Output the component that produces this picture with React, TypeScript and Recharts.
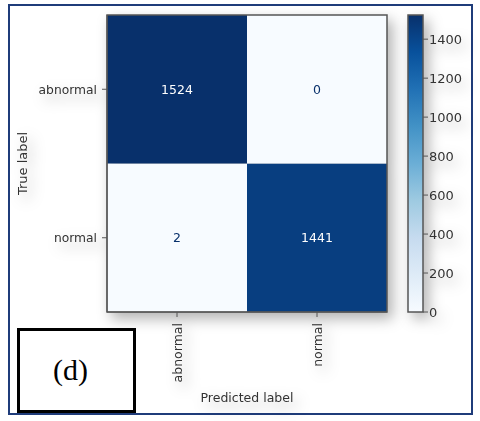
import React from "react"
import { BarChart, Bar, XAxis, YAxis, Cell, LabelList, ReferenceArea } from "recharts"

// confusion matrix: rows = true label, columns = predicted label
const classLabels = ["abnormal", "normal"]
const abnormalRow = [1524, 0]
const normalRow = [2, 1441]
const colorbarTicks = [0, 200, 400, 600, 800, 1000, 1200, 1400]

const cmMax = Math.max(...abnormalRow, ...normalRow)

// matplotlib "Blues"
const bluesStops = ["#f7fbff", "#deebf7", "#c6dbef", "#9ecae1", "#6baed6", "#4292c6", "#2171b5", "#08519c", "#08306b"]

function blues(t: number) {
  const c = Math.min(1, Math.max(0, t)) * (bluesStops.length - 1)
  const i = Math.min(bluesStops.length - 2, Math.floor(c))
  const f = c - i
  const a = parseInt(bluesStops[i].slice(1), 16)
  const b = parseInt(bluesStops[i + 1].slice(1), 16)
  const ch = (s: number) => Math.round(((a >> s) & 255) * (1 - f) + ((b >> s) & 255) * f)
  return `rgb(${ch(16)},${ch(8)},${ch(0)})`
}

const matrixData = classLabels.map((pred, i) => ({
  pred,
  normal: 1,
  abnormal: 1,
  normalCount: normalRow[i],
  abnormalCount: abnormalRow[i],
}))

const colorbarData = [{ name: "cb", value: cmMax }]

const FONT = "'DejaVu Sans', sans-serif"
const INK = "#333"
const SPINE = "#555"
const SHADOW = "drop-shadow(5px 6px 7px rgba(0,0,0,0.3))"

const CellValue = (props: any) => {
  const { x, y, width, height, value } = props
  const light = value / cmMax > 0.5
  return (
    <text
      x={x + width / 2}
      y={y + height / 2}
      textAnchor="middle"
      dominantBaseline="central"
      fontFamily={FONT}
      fontSize={12.5}
      fill={light ? "#ffffff" : "#08306b"}
    >
      {value}
    </text>
  )
}

const XTick = (props: any) => {
  const { x, y, payload } = props
  return (
    <text
      x={x}
      y={y}
      transform={`rotate(-90, ${x}, ${y})`}
      textAnchor="end"
      dominantBaseline="central"
      fontFamily={FONT}
      fontSize={12.5}
      fill={INK}
    >
      {payload.value}
    </text>
  )
}

const yRowLabel = (v: number) => classLabels[Math.round(1.5 - v)]

export default function App() {
  return (
    <div style={{ position: "absolute", left: 0, top: 0, width: 480, height: 421, background: "#fff", overflow: "hidden" }}>
      <div
        style={{
          position: "absolute",
          left: 8,
          top: 4,
          width: 465,
          height: 411,
          boxSizing: "border-box",
          border: "2px solid #1f3c7a",
        }}
      />

      {/* Confusion matrix */}
      <div style={{ position: "absolute", left: 0, top: 0, filter: SHADOW }}>
        <BarChart
          width={400}
          height={421}
          data={matrixData}
          margin={{ top: 15, right: 13, bottom: 19, left: 27 }}
          barCategoryGap={0}
          barGap={0}
        >
          <XAxis
            dataKey="pred"
            tick={<XTick />}
            tickSize={5}
            tickMargin={6}
            height={90}
            interval={0}
            stroke={SPINE}
            label={{
              content: (p: any) => (
                <text
                  x={p.viewBox.x + p.viewBox.width / 2}
                  y={p.viewBox.y + 85}
                  textAnchor="middle"
                  dominantBaseline="central"
                  fontFamily={FONT}
                  fontSize={12.5}
                  fill={INK}
                >
                  Predicted label
                </text>
              ),
            }}
          />
          <YAxis
            type="number"
            domain={[0, 2]}
            ticks={[0.5, 1.5]}
            tickFormatter={yRowLabel}
            width={80}
            tickSize={5}
            tickMargin={5}
            stroke={SPINE}
            tick={{ fill: INK, fontSize: 12.3, fontFamily: FONT }}
            label={{
              content: (p: any) => {
                const cx = p.viewBox.x - 5
                const cy = p.viewBox.y + p.viewBox.height / 2
                return (
                  <text
                    x={cx}
                    y={cy}
                    transform={`rotate(-90, ${cx}, ${cy})`}
                    textAnchor="middle"
                    dominantBaseline="central"
                    fontFamily={FONT}
                    fontSize={13}
                    fill={INK}
                  >
                    True label
                  </text>
                )
              },
            }}
          />
          <Bar dataKey="normal" stackId="cm" isAnimationActive={false}>
            {matrixData.map((d) => (
              <Cell key={`n-${d.pred}`} fill={blues(d.normalCount / cmMax)} />
            ))}
            <LabelList dataKey="normalCount" content={<CellValue />} />
          </Bar>
          <Bar dataKey="abnormal" stackId="cm" isAnimationActive={false}>
            {matrixData.map((d) => (
              <Cell key={`a-${d.pred}`} fill={blues(d.abnormalCount / cmMax)} />
            ))}
            <LabelList dataKey="abnormalCount" content={<CellValue />} />
          </Bar>
          <ReferenceArea
            x1={classLabels[0]}
            x2={classLabels[classLabels.length - 1]}
            y1={0}
            y2={2}
            fill="none"
            fillOpacity={0}
            stroke={SPINE}
            strokeWidth={1.5}
            zIndex={1000}
          />
        </BarChart>
      </div>

      {/* Colorbar */}
      <div style={{ position: "absolute", left: 395, top: 0, filter: SHADOW }}>
        <BarChart
          width={85}
          height={421}
          data={colorbarData}
          margin={{ top: 15, right: 12, bottom: 109, left: 13 }}
          barCategoryGap={0}
        >
          <defs>
            <linearGradient id="bluesGrad" x1="0" y1="1" x2="0" y2="0">
              {bluesStops.map((c, i) => (
                <stop key={c} offset={i / (bluesStops.length - 1)} stopColor={c} />
              ))}
            </linearGradient>
          </defs>
          <XAxis dataKey="name" hide />
          <YAxis
            orientation="right"
            type="number"
            domain={[0, cmMax]}
            ticks={colorbarTicks}
            width={45}
            tickSize={5}
            tickMargin={1}
            axisLine={false}
            stroke={SPINE}
            tick={{ fill: INK, fontSize: 13, fontFamily: FONT, textAnchor: "start" }}
          />
          <Bar dataKey="value" fill="url(#bluesGrad)" isAnimationActive={false} />
          <ReferenceArea
            x1="cb"
            x2="cb"
            y1={0}
            y2={cmMax}
            fill="none"
            fillOpacity={0}
            stroke={SPINE}
            strokeWidth={1.5}
            zIndex={1000}
          />
        </BarChart>
      </div>

      {/* panel tag */}
      <div
        style={{
          position: "absolute",
          left: 17,
          top: 328,
          width: 119,
          height: 85,
          boxSizing: "border-box",
          border: "3px solid #000",
          background: "#fff",
        }}
      >
        <span
          style={{
            position: "absolute",
            left: 33,
            top: 22,
            fontFamily: "'Liberation Serif', 'Times New Roman', serif",
            fontSize: 30,
            lineHeight: "34px",
            color: "#000",
          }}
        >
          (d)
        </span>
      </div>
    </div>
  )
}
